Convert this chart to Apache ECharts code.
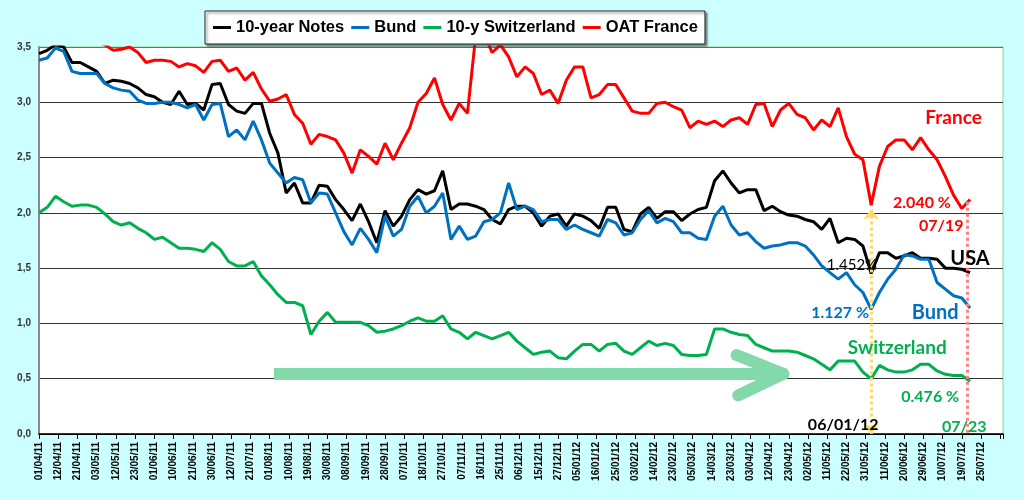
<!DOCTYPE html>
<html>
<head>
<meta charset="utf-8">
<script src="https://cdn.jsdelivr.net/npm/echarts/dist/echarts.min.js"></script>
<style>
html,body{margin:0;padding:0;background:#ccffff;}
#c{width:1024px;height:500px;}
</style>
</head>
<body>
<div id="c"></div>
<script>
// business-day index step between samples
const STEP = 3;

const tickLabels = ['01/04/11','12/04/11','21/04/11','03/05/11','12/05/11','23/05/11','01/06/11','10/06/11','21/06/11','30/06/11',
'12/07/11','21/07/11','01/08/11','10/08/11','19/08/11','30/08/11','08/09/11','19/09/11','28/09/11','07/10/11',
'18/10/11','27/10/11','07/11/11','16/11/11','25/11/11','06/12/11','15/12/11','27/12/11','05/01/12','16/01/12',
'25/01/12','03/02/12','14/02/12','23/02/12','05/03/12','14/03/12','23/03/12','03/04/12','12/04/12','23/04/12',
'02/05/12','11/05/12','22/05/12','31/05/12','11/06/12','20/06/12','29/06/12','10/07/12','19/07/12','25/07/12'];

const usa = [3.44,3.47,3.52,3.50,3.36,3.36,3.32,3.28,3.17,3.20,3.19,3.17,3.13,3.07,3.05,3.00,2.98,3.10,2.98,2.99,2.93,3.16,3.17,2.98,2.92,2.90,2.99,2.99,2.72,2.54,
2.18,2.27,2.09,2.09,2.25,2.24,2.12,2.03,1.93,2.08,1.92,1.73,2.02,1.88,1.97,2.12,2.21,2.17,2.20,2.38,2.03,2.08,2.08,2.06,2.03,1.94,1.90,2.03,2.06,
2.06,2.00,1.88,1.97,1.99,1.88,1.99,1.97,1.93,1.86,2.05,2.05,1.85,1.83,1.99,2.05,1.95,2.01,2.01,1.93,1.99,2.03,2.05,2.29,2.38,2.27,2.18,2.21,2.21,
2.02,2.06,2.01,1.98,1.97,1.94,1.92,1.85,1.95,1.73,1.77,1.76,1.70,1.452,1.64,1.64,1.59,1.61,1.64,1.59,1.59,1.58,1.50,1.50,1.49,1.46];

const bund = [3.38,3.40,3.49,3.46,3.28,3.26,3.26,3.26,3.17,3.13,3.11,3.10,3.02,2.99,2.99,3.00,3.00,2.98,2.95,2.98,2.84,2.98,2.99,2.69,2.75,2.66,2.83,2.66,2.45,2.36,
2.27,2.32,2.30,2.09,2.18,2.17,2.00,1.83,1.71,1.86,1.76,1.64,1.97,1.79,1.85,2.06,2.15,2.00,2.06,2.18,1.76,1.88,1.76,1.79,1.92,1.94,2.00,2.27,2.03,
2.06,2.03,1.92,1.94,1.94,1.85,1.89,1.85,1.82,1.79,1.94,1.91,1.80,1.82,1.94,2.02,1.91,1.95,1.92,1.82,1.82,1.77,1.76,1.97,2.06,1.89,1.80,1.82,1.74,
1.68,1.70,1.71,1.73,1.73,1.70,1.62,1.52,1.46,1.40,1.46,1.35,1.28,1.127,1.28,1.40,1.49,1.62,1.61,1.58,1.58,1.37,1.31,1.25,1.23,1.14];

const swiss = [2.00,2.05,2.15,2.10,2.06,2.07,2.07,2.05,1.99,1.92,1.89,1.91,1.86,1.82,1.76,1.78,1.73,1.68,1.68,1.67,1.65,1.73,1.67,1.56,1.52,1.52,1.56,1.43,1.35,1.26,
1.19,1.19,1.16,0.90,1.02,1.10,1.01,1.01,1.01,1.01,0.98,0.92,0.93,0.95,0.98,1.02,1.05,1.02,1.02,1.07,0.95,0.92,0.86,0.92,0.89,0.86,0.89,0.92,0.84,
0.78,0.72,0.74,0.75,0.69,0.68,0.75,0.81,0.81,0.75,0.81,0.82,0.75,0.72,0.78,0.84,0.80,0.82,0.80,0.72,0.71,0.71,0.72,0.95,0.95,0.92,0.90,0.89,0.81,
0.78,0.75,0.75,0.75,0.74,0.71,0.68,0.63,0.58,0.66,0.66,0.66,0.56,0.50,0.62,0.58,0.56,0.56,0.58,0.63,0.63,0.57,0.54,0.53,0.53,0.476];

const france = [3.68,3.66,3.70,3.66,3.62,3.60,3.58,3.55,3.52,3.47,3.48,3.50,3.45,3.36,3.38,3.38,3.37,3.32,3.35,3.33,3.27,3.37,3.38,3.28,3.31,3.20,3.27,3.12,3.01,3.03,
3.07,2.89,2.81,2.62,2.71,2.69,2.66,2.54,2.36,2.57,2.51,2.44,2.63,2.48,2.63,2.77,3.00,3.08,3.22,2.98,2.84,2.99,2.90,3.60,3.62,3.45,3.52,3.41,3.23,
3.32,3.26,3.07,3.11,2.99,3.20,3.32,3.32,3.04,3.07,3.16,3.16,3.04,2.92,2.90,2.90,2.99,3.00,2.96,2.93,2.77,2.83,2.80,2.83,2.78,2.84,2.86,2.80,2.98,
2.99,2.78,2.93,2.99,2.89,2.86,2.75,2.84,2.78,2.95,2.69,2.53,2.48,2.07,2.42,2.60,2.66,2.66,2.57,2.68,2.57,2.48,2.33,2.16,2.04,2.12];

const seriesNames = ['10-year Notes','Bund','10-y Switzerland','OAT France'];
const seriesColors = ['#000000','#0070c0','#00b050','#ff0000'];
const seriesValues = [usa, bund, swiss, france];

const NOTE_FONT = "Lato, 'Open Sans', sans-serif";
const notes = [
  {t:'France',  x:333,   y:2.86,  c:'#ff0000', s:19, w:'bold'},
  {t:'2.040 %', x:321.5, y:2.09,  c:'#ff0000', s:16, w:'bold'},
  {t:'07/19',   x:328.5, y:1.88,  c:'#ff0000', s:16, w:'bold'},
  {t:'USA',     x:339,   y:1.59,  c:'#000000', s:20, w:'bold'},
  {t:'1.452%',  x:296,   y:1.53,  c:'#000000', s:15, w:'normal'},
  {t:'1.127 %', x:291.7, y:1.094, c:'#0070c0', s:16, w:'bold'},
  {t:'Bund',    x:326.3, y:1.094, c:'#0070c0', s:20, w:'bold'},
  {t:'Switzerland', x:312.5, y:0.78, c:'#00b050', s:19, w:'bold'},
  {t:'0.476 %', x:324.5, y:0.335, c:'#00b050', s:16, w:'bold'},
  {t:'06/01/12',x:292.8, y:0.08,  c:'#000000', s:16, w:'bold'},
  {t:'07/23',   x:336.9, y:0.063, c:'#00b050', s:16, w:'bold'}
];

const chart = echarts.init(document.getElementById('c'));

const lineSeries = seriesValues.map((arr, k) => ({
  name: seriesNames[k],
  type: 'line',
  data: arr.map((v, i) => [i * STEP, v]),
  showSymbol: false,
  clip: true,
  z: 3,
  lineStyle: {color: seriesColors[k], width: 3},
  itemStyle: {color: seriesColors[k]},
  animation: false
}));

const arrowColor = '#83d9a9';
const arrowSeries = {
  name: '_arrow', type: 'line', data: [], z: 1, animation: false,
  markLine: {
    silent: true, animation: false, symbol: 'none',
    label: {show: false},
    lineStyle: {color: arrowColor, width: 12, type: 'solid', cap: 'round', opacity: 1},
    data: [
      [{coord: [85.5, 0.545], lineStyle: {cap: 'butt'}}, {coord: [268, 0.545]}],
      [{coord: [254, 0.714]}, {coord: [271, 0.545]}],
      [{coord: [254.6, 0.35]}, {coord: [271, 0.545]}]
    ]
  }
};

const notesSeries = {
  name: '_notes', type: 'line', data: [], z: 6, animation: false,
  markLine: {
    silent: true, animation: false, label: {show: false},
    data: [
      [{coord: [303, 2.03], symbol: 'arrow', symbolSize: [12, 10],
        lineStyle: {color: '#ffd966', width: 3, type: [3, 3]}},
       {coord: [303, 0], symbol: 'arrow', symbolSize: [12, 10]}],
      [{coord: [338, 2.1], symbol: 'none',
        lineStyle: {color: '#ff8080', width: 3, type: [3, 3]}},
       {coord: [338, 0], symbol: 'none'}]
    ]
  },
  markPoint: {
    silent: true, animation: false,
    symbol: 'rect', symbolSize: 1,
    itemStyle: {color: 'rgba(0,0,0,0)'},
    data: notes.map(n => ({
      coord: [n.x, n.y],
      label: {show: true, position: 'inside', formatter: n.t, color: n.c,
              fontSize: n.s, fontWeight: n.w, fontFamily: NOTE_FONT}
    }))
  }
};

const splitColors = ['#000','#333','#333','#333','#333','#333','#333','#2f9a2f'];

chart.setOption({
  animation: false,
  backgroundColor: '#ccffff',
  grid: {left: 39, right: 21, top: 47, bottom: 66, show: true,
         backgroundColor: '#ffffff', borderColor: '#8fd08f', borderWidth: 1,
         containLabel: false, outerBoundsMode: 'none'},
  legend: {
    data: seriesNames,
    left: 205, top: 11,
    backgroundColor: '#ffffff', borderColor: '#222', borderWidth: 1,
    padding: [8, 7, 8, 8],
    shadowColor: 'rgba(0,0,0,0.45)', shadowOffsetX: 2, shadowOffsetY: 2, shadowBlur: 2,
    icon: 'rect', itemWidth: 18, itemHeight: 3, itemGap: 7,
    textStyle: {fontFamily: "'Liberation Sans', Arial, sans-serif",
                fontWeight: 'bold', fontSize: 16.5, color: '#000'}
  },
  xAxis: {
    type: 'value', min: 0, max: 351, interval: 7,
    axisLine: {show: true, lineStyle: {color: '#000', width: 1.5}},
    axisTick: {show: true, length: 5, lineStyle: {color: '#000'}},
    splitLine: {show: false},
    axisLabel: {
      rotate: 90, margin: 8, fontSize: 10, fontWeight: 'bold', color: '#000',
      fontFamily: "'Liberation Sans', Arial, sans-serif",
      formatter: v => (v % 7 === 0 ? (tickLabels[v / 7] || '') : '')
    }
  },
  yAxis: {
    type: 'value', min: 0, max: 3.5, interval: 0.5,
    axisLine: {show: true, lineStyle: {color: '#8a8a8a', width: 2}},
    axisTick: {show: false},
    splitLine: {show: true, lineStyle: {color: splitColors, width: 1}},
    axisLabel: {
      margin: 8, fontSize: 10, fontWeight: 'bold', color: '#333',
      fontFamily: "'Liberation Sans', Arial, sans-serif",
      formatter: v => v.toFixed(1).replace('.', ',')
    }
  },
  series: [arrowSeries].concat(lineSeries).concat([notesSeries])
});
</script>
</body>
</html>
